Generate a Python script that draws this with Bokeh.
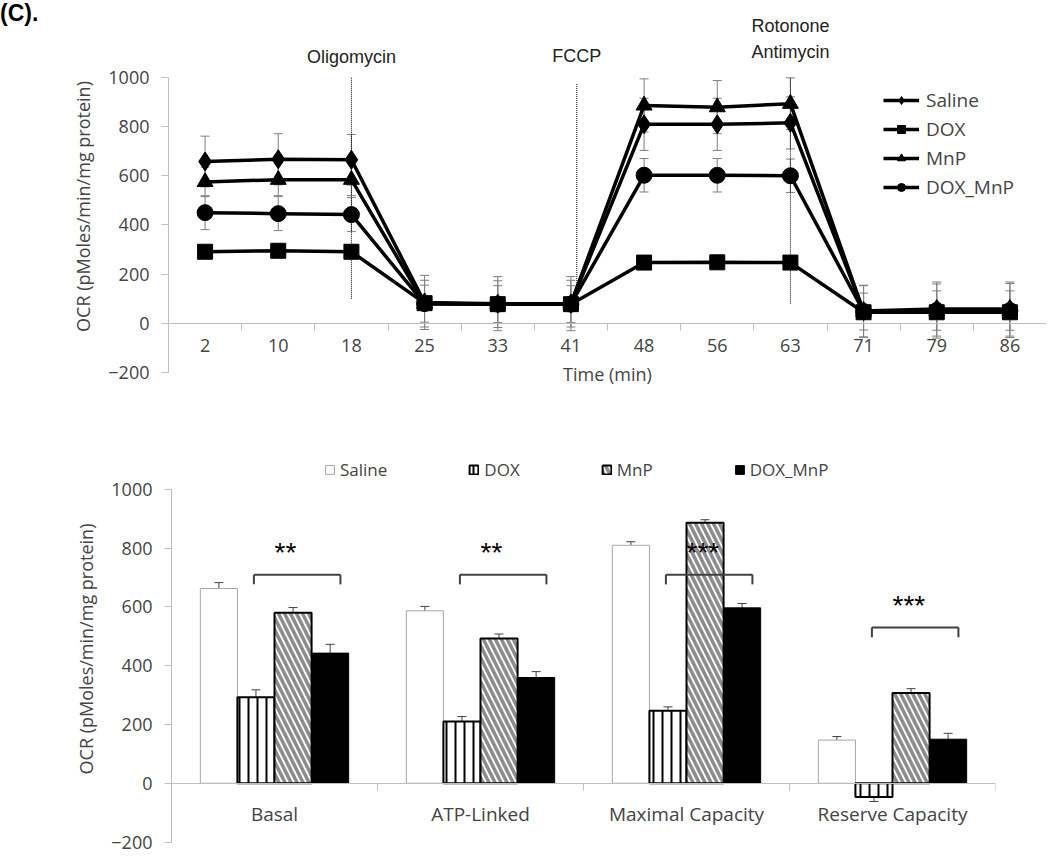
from bokeh.plotting import figure
from bokeh.models import (ColumnDataSource, Whisker, TeeHead, Legend, LegendItem,
                          Label, FixedTicker, LinearAxis, Range1d, Div)
from bokeh.layouts import column, row
from bokeh.embed import file_html
from bokeh.resources import INLINE
from bokeh.transform import dodge

# ---------------- data: time course (top) ----------------
times = ["2", "10", "18", "25", "33", "41", "48", "56", "63", "71", "79", "86"]
saline = [658, 667, 665, 85, 80, 80, 809, 809, 815, 50, 58, 58]
saline_err = [103, 104, 103, 110, 110, 110, 106, 106, 106, 105, 110, 110]
dox = [291, 295, 291, 82, 78, 78, 247, 248, 247, 45, 45, 45]
dox_err = [20, 20, 20, 20, 20, 20, 25, 25, 25, 20, 20, 20]
mnp = [575, 584, 584, 80, 78, 80, 886, 879, 893, 48, 50, 52]
mnp_err = [60, 65, 65, 95, 95, 95, 108, 108, 105, 105, 110, 110]
doxmnp = [450, 446, 442, 80, 78, 78, 602, 602, 600, 48, 52, 52]
doxmnp_err = [69, 69, 69, 75, 75, 75, 68, 68, 68, 75, 80, 80]

events = ["Oligomycin", "FCCP", "Rotonone\nAntimycin"]
event_pos = [2, 5.08, 8]
event_bottom = [100, 50, 80]
event_top = [1000, 975, 1000]
event_label_y = [1083, 1087, 1156]

# ---------------- data: bar summary (bottom) ----------------
groups = ["Basal", "ATP-Linked", "Maximal Capacity", "Reserve Capacity"]
b_saline = [663, 587, 810, 147]
b_saline_err = [20, 15, 12, 12]
b_dox = [293, 210, 247, -47]
b_dox_err = [25, 17, 13, 15]
b_mnp = [580, 493, 887, 307]
b_mnp_err = [18, 15, 10, 15]
b_doxmnp = [443, 360, 597, 150]
b_doxmnp_err = [30, 20, 15, 20]
sig_labels = ["**", "**", "***", "***"]
sig_level = [710, 710, 710, 530]

TICK_FONT = "Open Sans"
ANNOT_FONT = "Liberation Sans"
AXIS_GRAY = "#bfbfbf"
Y_TICKS = [-200, 0, 200, 400, 600, 800, 1000]


def style_y(ax):
    ax.ticker = FixedTicker(ticks=Y_TICKS)
    ax.bounds = (-200, 1000)
    ax.axis_line_color = AXIS_GRAY
    ax.major_tick_line_color = AXIS_GRAY
    ax.major_tick_out = 7
    ax.major_tick_in = 0
    ax.minor_tick_line_color = None
    ax.major_label_standoff = 12
    ax.major_label_text_font = TICK_FONT
    ax.major_label_text_font_size = "18px"
    ax.axis_label = "OCR (pMoles/min/mg protein)"
    ax.axis_label_text_font = TICK_FONT
    ax.axis_label_text_font_size = "18px"
    ax.axis_label_text_font_style = "normal"
    ax.axis_label_standoff = 10


def style_boundary_x(ax, n):
    ax.fixed_location = 0
    ax.ticker = FixedTicker(ticks=[i + 0.5 for i in range(n)])
    ax.axis_line_color = AXIS_GRAY
    ax.major_tick_line_color = AXIS_GRAY
    ax.major_tick_out = 7
    ax.major_tick_in = 0
    ax.minor_tick_line_color = None
    ax.major_label_text_color = None


# =============== top figure ===============
p1 = figure(width=1006, height=412, output_backend="svg", toolbar_location=None,
            x_range=Range1d(-0.5, len(times) - 0.5), y_range=Range1d(-330, 1280),
            min_border_left=128, min_border_right=0, min_border_top=8, min_border_bottom=8)
p1.outline_line_color = None
p1.grid.grid_line_color = None

xi = list(range(len(times)))
series = [("Saline", saline, saline_err, "diamond", 19),
          ("DOX", dox, dox_err, "square", 15),
          ("MnP", mnp, mnp_err, "triangle", 16),
          ("DOX_MnP", doxmnp, doxmnp_err, "circle", 16)]

ev_src = ColumnDataSource(dict(x=event_pos, y0=event_bottom, y1=event_top))
p1.segment(x0="x", y0="y0", x1="x", y1="y1", source=ev_src, line_color="black",
           line_dash="1 1", line_width=1)

items = []
for name, vals, errs, marker, size in series:
    src = ColumnDataSource(dict(x=xi, y=vals,
                                upper=[v + e for v, e in zip(vals, errs)],
                                lower=[v - e for v, e in zip(vals, errs)]))
    w = Whisker(source=src, base="x", upper="upper", lower="lower",
                line_color="#7f7f7f", line_width=1, level="underlay",
                upper_head=TeeHead(size=9, line_color="#7f7f7f", line_width=1),
                lower_head=TeeHead(size=9, line_color="#7f7f7f", line_width=1))
    p1.add_layout(w)
    ln = p1.line("x", "y", source=src, line_color="black", line_width=3.5)
    sc = p1.scatter("x", "y", source=src, marker=marker, size=size,
                    fill_color="black", line_color="black")
    items.append(LegendItem(label=name, renderers=[ln, sc]))

leg1 = Legend(items=items, location=(715, 204), orientation="vertical",
              glyph_width=36, glyph_height=20, label_height=20, spacing=3,
              padding=4, margin=0, label_standoff=7,
              label_text_font=TICK_FONT, label_text_font_size="19px",
              border_line_color=None, background_fill_alpha=0)
p1.add_layout(leg1)

style_y(p1.yaxis[0])
style_boundary_x(p1.xaxis[0], len(times))

xl = LinearAxis(fixed_location=0,
                ticker=FixedTicker(ticks=xi),
                major_label_overrides={i: t for i, t in enumerate(times)},
                axis_line_color=None, major_tick_line_color=None,
                minor_tick_line_color=None, major_tick_out=0, major_tick_in=0,
                major_label_standoff=16,
                major_label_text_font=TICK_FONT, major_label_text_font_size="18px",
                axis_label="Time (min)", axis_label_text_font=TICK_FONT,
                axis_label_text_font_size="18px", axis_label_text_font_style="normal",
                axis_label_standoff=6)
p1.add_layout(xl, "below")

for txt, xpos, yy in zip(events, event_pos, event_label_y):
    p1.add_layout(Label(x=xpos, y=yy, text=txt, text_align="center",
                        text_baseline="middle", text_font=ANNOT_FONT,
                        text_font_size="18px", text_line_height=1.3,
                        text_color="#222222"))

tag = Div(text="(C).", width=40, height=412, margin=0,
          styles={"font-family": "Liberation Sans, Arial, sans-serif",
                  "font-size": "23px", "font-weight": "bold", "line-height": "26px"})

# =============== bottom figure ===============
p2 = figure(width=1042, height=441, output_backend="svg", toolbar_location=None,
            x_range=Range1d(-0.5, len(groups) - 0.5), y_range=Range1d(-205, 1119),
            min_border_left=171, min_border_right=47, min_border_top=42, min_border_bottom=10)
p2.outline_line_color = None
p2.grid.grid_line_color = None

gx = list(range(len(groups)))
bsrc = ColumnDataSource(dict(x=gx, saline=b_saline, dox=b_dox, mnp=b_mnp, doxmnp=b_doxmnp))
BW = 0.18
offs = [-1.5 * BW, -0.5 * BW, 0.5 * BW, 1.5 * BW]

r_sal = p2.vbar(x=dodge("x", offs[0], range=p2.x_range), top="saline", bottom=0, width=BW,
                source=bsrc, fill_color="white", line_color="#a6a6a6", line_width=1)
r_dox = p2.vbar(x=dodge("x", offs[1], range=p2.x_range), top="dox", bottom=0, width=BW,
                source=bsrc, fill_color="white", line_color="black", line_width=2,
                hatch_pattern="|", hatch_color="black", hatch_weight=2, hatch_scale=9)
r_mnp = p2.vbar(x=dodge("x", offs[2], range=p2.x_range), top="mnp", bottom=0, width=BW,
                source=bsrc, fill_color="white", line_color="black", line_width=2,
                hatch_pattern="\\", hatch_color="#8c8c8c", hatch_weight=3.5, hatch_scale=12)
r_dm = p2.vbar(x=dodge("x", offs[3], range=p2.x_range), top="doxmnp", bottom=0, width=BW,
               source=bsrc, fill_color="black", line_color="black", line_width=1)

for off, vals, errs in [(offs[0], b_saline, b_saline_err), (offs[1], b_dox, b_dox_err),
                        (offs[2], b_mnp, b_mnp_err), (offs[3], b_doxmnp, b_doxmnp_err)]:
    es = ColumnDataSource(dict(x=gx, upper=[v + e for v, e in zip(vals, errs)],
                               lower=[v - e for v, e in zip(vals, errs)]))
    p2.add_layout(Whisker(source=es, base=dodge("x", off, range=p2.x_range),
                          upper="upper", lower="lower",
                          line_color="#404040", line_width=1,
                          upper_head=TeeHead(size=9, line_color="#404040", line_width=1),
                          lower_head=TeeHead(size=9, line_color="#404040", line_width=1)))

sig_src = ColumnDataSource(dict(x=gx, lvl=sig_level,
                                leg=[v - 33 for v in sig_level],
                                txt_y=[v + 76 for v in sig_level], txt=sig_labels))
L, R = -0.1, 0.32
p2.segment(x0=dodge("x", L, range=p2.x_range), x1=dodge("x", R, range=p2.x_range),
           y0="lvl", y1="lvl", source=sig_src, line_color="#404040", line_width=2)
p2.segment(x0=dodge("x", L, range=p2.x_range), x1=dodge("x", L, range=p2.x_range),
           y0="lvl", y1="leg", source=sig_src, line_color="#404040", line_width=2)
p2.segment(x0=dodge("x", R, range=p2.x_range), x1=dodge("x", R, range=p2.x_range),
           y0="lvl", y1="leg", source=sig_src, line_color="#404040", line_width=2)
p2.text(x="x", y="txt_y", text="txt", source=sig_src, text_align="left",
        text_baseline="middle", text_font_size="28px", text_color="black")

leg2 = Legend(items=[LegendItem(label="Saline", renderers=[r_sal]),
                     LegendItem(label="DOX", renderers=[r_dox]),
                     LegendItem(label="MnP", renderers=[r_mnp]),
                     LegendItem(label="DOX_MnP", renderers=[r_dm])],
              location=(153, 362), orientation="horizontal",
              glyph_width=11, glyph_height=11, label_height=20, spacing=81,
              padding=0, margin=0, label_standoff=5,
              label_text_font=TICK_FONT, label_text_font_size="17px",
              border_line_color=None, background_fill_alpha=0)
p2.add_layout(leg2)

style_y(p2.yaxis[0])
style_boundary_x(p2.xaxis[0], len(groups))

xl2 = LinearAxis(fixed_location=0, ticker=FixedTicker(ticks=gx),
                 major_label_overrides={i: g for i, g in enumerate(groups)},
                 axis_line_color=None, major_tick_line_color=None,
                 minor_tick_line_color=None, major_tick_out=0, major_tick_in=0,
                 major_label_standoff=18,
                 major_label_text_font=TICK_FONT, major_label_text_font_size="19px")
p2.add_layout(xl2, "below")

layout = column(row(tag, p1, spacing=0), p2, spacing=0)
open("out.html", "w").write(file_html(layout, INLINE))
